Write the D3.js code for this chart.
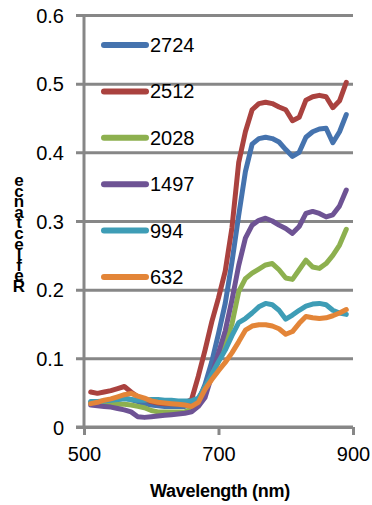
<!DOCTYPE html>
<html>
<head>
<meta charset="utf-8">
<script src="https://cdn.jsdelivr.net/npm/d3@7"></script>
<style>
  html, body { margin: 0; padding: 0; background: #fff; }
  svg { display: block; font-family: "Liberation Sans", Arial, sans-serif; }
</style>
</head>
<body>
<svg id="chart" width="372" height="505"></svg>
<script>
// Wavelength grid (nm) shared by every spectrum
const wavelengths = [510,520,530,540,550,560,570,580,590,600,610,620,630,640,650,660,670,680,690,700,
                     710,720,730,740,750,760,770,780,790,800,810,820,830,840,850,860,870,880,890];

// Series names, in drawing / legend order
const seriesNames = ["2724", "2512", "2028", "1497", "994", "632"];
const seriesColors = ["#4573AE", "#AA423F", "#8DB04F", "#6E5394", "#3E9DB6", "#E38538"];

// Reflectance values per series
const r2724 = [0.036,0.036,0.037,0.038,0.040,0.042,0.040,0.037,0.034,0.032,0.031,0.030,0.030,0.030,0.030,0.033,0.038,0.062,0.095,0.136,
               0.180,0.240,0.308,0.372,0.412,0.420,0.422,0.420,0.415,0.404,0.394,0.400,0.422,0.430,0.434,0.435,0.414,0.430,0.455];
const r2512 = [0.051,0.049,0.051,0.053,0.056,0.059,0.051,0.044,0.040,0.037,0.035,0.034,0.034,0.034,0.035,0.040,0.074,0.112,0.153,0.188,
               0.227,0.290,0.385,0.430,0.462,0.471,0.473,0.471,0.466,0.462,0.446,0.451,0.476,0.481,0.483,0.481,0.465,0.475,0.502];
const r2028 = [0.035,0.034,0.034,0.033,0.033,0.033,0.032,0.030,0.028,0.024,0.022,0.022,0.022,0.022,0.022,0.026,0.040,0.058,0.074,0.097,
               0.122,0.150,0.197,0.216,0.224,0.230,0.236,0.238,0.229,0.217,0.215,0.229,0.243,0.233,0.231,0.238,0.250,0.265,0.288];
const r1497 = [0.032,0.031,0.030,0.029,0.027,0.025,0.022,0.015,0.014,0.015,0.016,0.017,0.018,0.019,0.020,0.022,0.030,0.043,0.075,0.108,
               0.140,0.185,0.235,0.275,0.294,0.301,0.304,0.300,0.294,0.289,0.282,0.292,0.311,0.314,0.311,0.306,0.309,0.322,0.345];
const r994  = [0.037,0.037,0.038,0.039,0.040,0.041,0.040,0.039,0.039,0.040,0.040,0.039,0.039,0.038,0.038,0.038,0.042,0.058,0.077,0.095,
               0.112,0.133,0.152,0.158,0.166,0.175,0.180,0.178,0.170,0.157,0.163,0.170,0.176,0.179,0.180,0.178,0.170,0.166,0.164];
const r632  = [0.034,0.036,0.039,0.041,0.044,0.047,0.049,0.045,0.042,0.038,0.036,0.035,0.034,0.033,0.032,0.030,0.036,0.055,0.069,0.082,
               0.094,0.108,0.124,0.141,0.147,0.149,0.149,0.147,0.143,0.135,0.139,0.151,0.161,0.159,0.158,0.159,0.162,0.166,0.171];

const seriesValues = [r2724, r2512, r2028, r1497, r994, r632];

// Axis tick values
const xTicks = [500, 700, 900];
const yTicks = [0, 0.1, 0.2, 0.3, 0.4, 0.5, 0.6];

const svg = d3.select("#chart");
const gridColor = "#878787";

const x = d3.scaleLinear().domain([500, 900]).range([84, 353]);
const y = d3.scaleLinear().domain([0, 0.6]).range([427, 15]);

// Horizontal gridlines with left tick stubs
const yAxis = d3.axisLeft(y).tickValues(yTicks).tickSizeInner(-(353 - 84)).tickSizeOuter(0)
  .tickFormat(d => d === 0 ? "0" : d3.format(".1f")(d)).tickPadding(0);
const gy = svg.append("g").attr("transform", "translate(84,0)").call(yAxis);
gy.select(".domain").remove();
gy.selectAll(".tick line").attr("stroke", gridColor).attr("stroke-width", 3).attr("x1", -8);
gy.selectAll(".tick text")
  .attr("x", -20).attr("dy", "0.35em")
  .attr("fill", "#000").attr("font-size", 20)
  .attr("font-family", "Liberation Sans, Arial, sans-serif");

// Vertical axis line
svg.append("line").attr("x1", 84).attr("x2", 84).attr("y1", 15).attr("y2", 427)
  .attr("stroke", gridColor).attr("stroke-width", 3);

// Bottom axis
const xAxis = d3.axisBottom(x).tickValues(xTicks).tickSizeInner(8).tickSizeOuter(0).tickFormat(d3.format("d")).tickPadding(12);
const gx = svg.append("g").attr("transform", "translate(0,427)").call(xAxis);
gx.select(".domain").remove();
gx.selectAll(".tick line").attr("stroke", gridColor).attr("stroke-width", 3);
gx.selectAll(".tick text")
  .attr("fill", "#000").attr("font-size", 20)
  .attr("font-family", "Liberation Sans, Arial, sans-serif");
svg.append("line").attr("x1", 76).attr("x2", 353).attr("y1", 427).attr("y2", 427)
  .attr("stroke", gridColor).attr("stroke-width", 3);

// Spectra
const line = d3.line()
  .x((d, i) => x(wavelengths[i]))
  .y(d => y(d))
  .curve(d3.curveLinear);

svg.append("g").selectAll("path")
  .data(seriesValues)
  .join("path")
  .attr("d", d => line(d))
  .attr("fill", "none")
  .attr("stroke", (d, i) => seriesColors[i])
  .attr("stroke-width", 5)
  .attr("stroke-linejoin", "round")
  .attr("stroke-linecap", "round");

// Legend
const legend = svg.append("g").selectAll("g")
  .data(seriesNames)
  .join("g")
  .attr("transform", (d, i) => `translate(0,${45 + i * 46.4})`);
legend.append("line")
  .attr("x1", 104).attr("x2", 146).attr("y1", 0).attr("y2", 0)
  .attr("stroke", (d, i) => seriesColors[i]).attr("stroke-width", 6).attr("stroke-linecap", "round");
legend.append("text")
  .attr("x", 150).attr("y", 0).attr("dy", "0.35em")
  .attr("font-size", 20).attr("fill", "#000")
  .text(d => d);

// Axis titles
svg.append("text")
  .attr("x", 220).attr("y", 497)
  .attr("text-anchor", "middle")
  .attr("font-weight", "bold").attr("font-size", 18)
  .attr("fill", "#000")
  .attr("letter-spacing", "-0.3")
  .text("Wavelength (nm)");

// Stacked-letter vertical title, reading bottom to top (one text element)
const yTitle = "Reflectance".split("");
svg.append("text")
  .attr("text-anchor", "middle")
  .attr("font-weight", "bold").attr("font-size", 17)
  .attr("fill", "#000")
  .selectAll("tspan")
  .data(yTitle)
  .join("tspan")
  .attr("x", 19)
  .attr("y", (d, i) => 292 - i * 10.6)
  .text(d => d);
</script>
</body>
</html>
